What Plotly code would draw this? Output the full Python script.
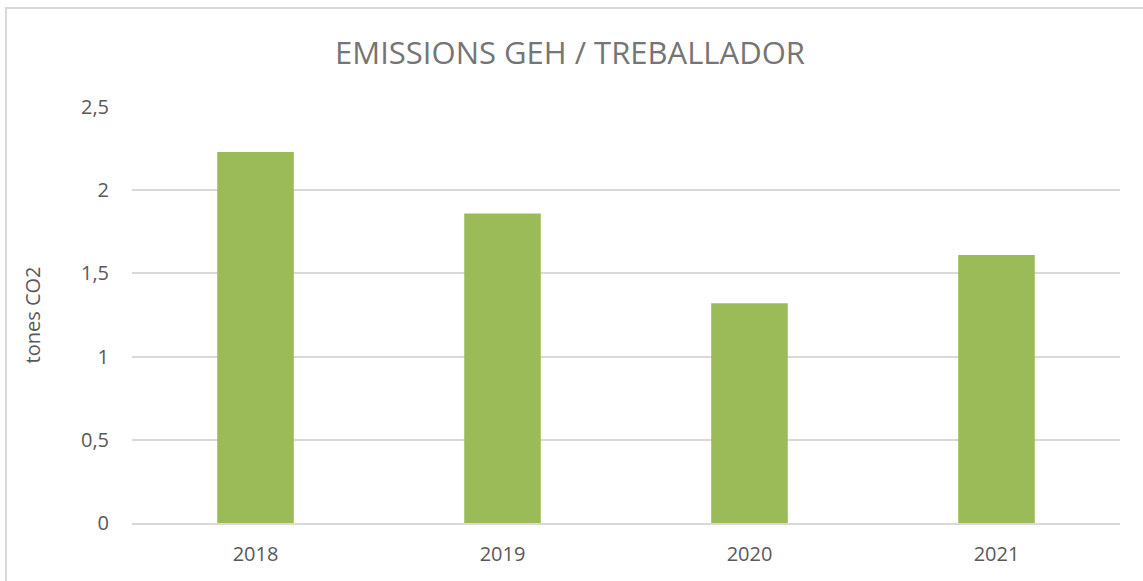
import plotly.graph_objects as go

years = ["2018", "2019", "2020", "2021"]
values = [2.23, 1.86, 1.32, 1.61]
y_ticks = [0, 0.5, 1, 1.5, 2, 2.5]
y_tick_labels = ["0", "0,5", "1", "1,5", "2", "2,5"]

W, H = 1143, 581
L, R, T, B = 132, 1120, 107, 523

fig = go.Figure(go.Bar(x=years, y=values, marker_color="#9BBB59", marker_line_width=0,
                       hoverinfo="skip"))

fig.update_layout(
    width=W, height=H,
    margin=dict(l=L, r=W - R, t=T, b=H - B, autoexpand=False),
    paper_bgcolor="white", plot_bgcolor="white",
    bargap=0.69,
    font=dict(family="Open Sans, Noto Sans, sans-serif", color="#595959", size=20),
    title=dict(text="EMISSIONS GEH / TREBALLADOR", x=570 / W, xanchor="center",
               y=1 - 53 / H, yanchor="middle",
               font=dict(size=31, color="#757575", family="Open Sans, sans-serif")),
    showlegend=False,
)
fig.update_xaxes(showgrid=False, showline=True, linecolor="#d9d9d9", linewidth=2,
                 ticks="", tickfont=dict(size=20), ticklabelstandoff=12)
fig.update_yaxes(range=[0, 2.5], tickvals=y_ticks, ticktext=y_tick_labels,
                 showgrid=True, gridcolor="#d9d9d9", gridwidth=2, zeroline=False,
                 showline=False, ticks="", tickfont=dict(size=20), ticklabelstandoff=22,
                 title=dict(text="tones CO2", font=dict(size=20), standoff=34))

# outer chart border
pw, ph = R - L, B - T
fig.add_shape(type="rect", xref="paper", yref="paper",
              x0=(6 - L) / pw, x1=(W + 2 - L) / pw,
              y0=(B - (H + 5)) / ph, y1=(B - 8) / ph,
              line=dict(color="#d9d9d9", width=2), fillcolor="rgba(0,0,0,0)", layer="below")

fig.write_html("out.html", config={"displayModeBar": False},
               post_script="document.body.style.margin='0';")
